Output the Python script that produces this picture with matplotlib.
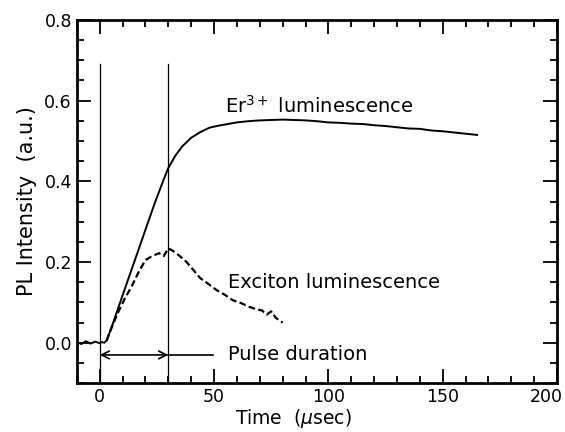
import numpy as np
import matplotlib
matplotlib.use("Agg")
import matplotlib.pyplot as plt
from matplotlib.ticker import MultipleLocator, FuncFormatter

# Er3+ luminescence (solid)
t_er = [-10, -8, -6, -4, -2, 0, 1, 2, 3, 5, 8, 12, 16, 20, 24, 28, 30, 33, 36, 40, 44, 48,
        52, 56, 60, 65, 70, 75, 80, 85, 90, 95, 100, 105, 110, 115, 120, 125, 130,
        135, 140, 145, 150, 155, 160, 165]
pl_er = [0.002, -0.003, 0.004, -0.002, 0.003, -0.001, 0.002, 0.0, 0.006, 0.035, 0.085,
         0.15, 0.215, 0.28, 0.345, 0.405, 0.433, 0.463, 0.486, 0.508, 0.522, 0.533,
         0.538, 0.542, 0.546, 0.549, 0.551, 0.552, 0.553, 0.552, 0.551, 0.549,
         0.546, 0.545, 0.543, 0.542, 0.539, 0.537, 0.534, 0.531, 0.530, 0.526,
         0.524, 0.521, 0.518, 0.515]

# Exciton luminescence (dashed)
t_ex = [3, 5, 8, 11, 14, 17, 20, 23, 26, 28, 30, 32, 35, 38, 41, 44, 47, 51, 55, 58,
        62, 65, 68, 71, 73, 75, 77, 80]
pl_ex = [0.005, 0.035, 0.075, 0.11, 0.14, 0.175, 0.205, 0.215, 0.222, 0.215, 0.234,
         0.228, 0.215, 0.2, 0.18, 0.16, 0.148, 0.131, 0.118, 0.106, 0.098, 0.09,
         0.084, 0.08, 0.07, 0.078, 0.062, 0.05]

pulse_start = 0
pulse_end = 30
x_max = 200

plt.rcParams['font.family'] = ['DejaVu Sans']
plt.rcParams['mathtext.fontset'] = 'dejavusans'

fig = plt.figure(figsize=(5.65, 4.32), dpi=100)
ax = fig.add_axes([0.136, 0.113, 0.85, 0.841])

ax.plot(t_er, pl_er, color='black', lw=1.4)
ax.plot(t_ex, pl_ex, color='black', lw=1.6, ls=(0, (3, 1.5)))

for xv in (pulse_start, pulse_end):
    ax.plot([xv, xv], [-0.1, 0.69], color='black', lw=0.9)

ax.annotate('', xy=(pulse_start, -0.03), xytext=(pulse_end, -0.03),
            arrowprops=dict(arrowstyle='<->', color='black', lw=1.2,
                            shrinkA=0, shrinkB=0, mutation_scale=14))
ax.plot([pulse_end, 49.5], [-0.03, -0.03], color='black', lw=1.2)

ax.text(54.7, 0.57, r'Er$^{3+}$ luminescence', fontsize=14, va='baseline')
ax.text(56, 0.15, 'Exciton luminescence', fontsize=14, va='center')
ax.text(56, -0.03, 'Pulse duration', fontsize=14, va='center')

ax.set_xlim(-10, x_max)
ax.set_ylim(-0.1, 0.8)
ax.xaxis.set_major_locator(MultipleLocator(50))
ax.xaxis.set_minor_locator(MultipleLocator(10))
ax.yaxis.set_major_locator(MultipleLocator(0.2))
ax.yaxis.set_minor_locator(MultipleLocator(0.05))
ax.yaxis.set_major_formatter(matplotlib.ticker.FormatStrFormatter('%.1f'))
# last x label is drawn separately, shifted a little left so it fits
ax.xaxis.set_major_formatter(FuncFormatter(lambda v, p: '' if v >= x_max else '%d' % v))
ax.tick_params(which='both', direction='in', top=True, right=True, labelsize=12.5, width=1.3)
ax.tick_params(which='major', length=10)
ax.tick_params(which='minor', length=5)
for s in ax.spines.values():
    s.set_linewidth(2)

ax.annotate('%d' % x_max, xy=(x_max, 0), xycoords=('data', 'axes fraction'),
            xytext=(-8, -3.5), textcoords='offset points', ha='center', va='top',
            fontsize=12.5, annotation_clip=False)

ax.set_xlabel(r'Time  ($\mu$sec)', fontsize=13.5)
ax.xaxis.set_label_coords(0.45, -0.065)
ax.set_ylabel('PL Intensity  (a.u.)', fontsize=15, labelpad=5)

fig.savefig('out.png', dpi=100)
